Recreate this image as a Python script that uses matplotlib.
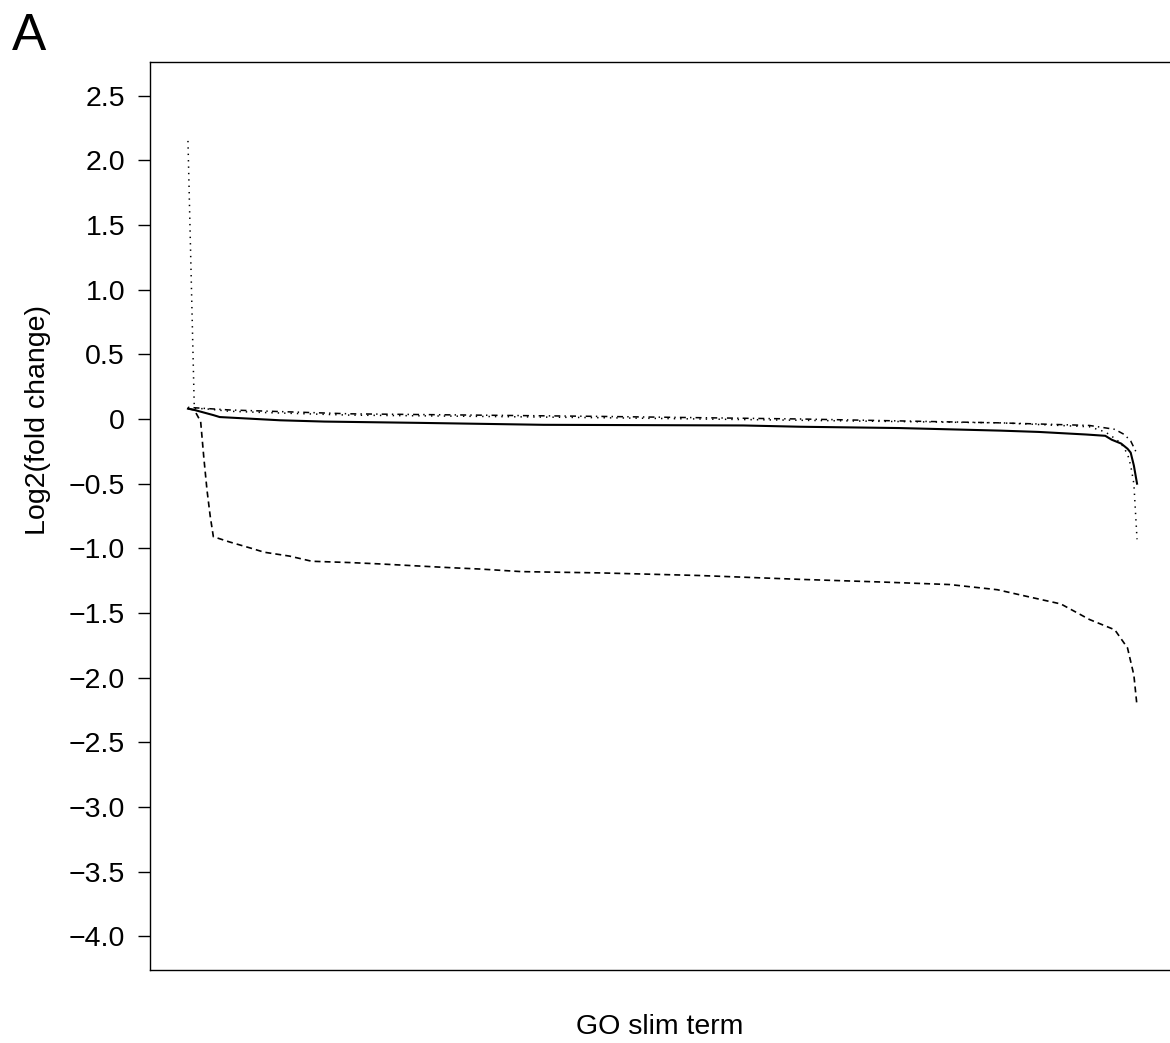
import numpy as np
import matplotlib
matplotlib.use('Agg')
import matplotlib.pyplot as plt

plt.rcParams['font.family'] = ['Liberation Sans', 'DejaVu Sans']
plt.rcParams['lines.scale_dashes'] = False

# GO slim terms ranked by fold change (rank 1..300)
N_TERMS = 300

# solid series
solid_x = [1, 3, 6, 9, 11, 30, 44, 74, 113, 176, 194, 225, 257, 269, 284, 290, 292, 295, 297, 298, 299, 300]
solid_y = [0.08, 0.07, 0.05, 0.03, 0.015, -0.01, -0.02, -0.03, -0.045, -0.05, -0.06, -0.07, -0.09, -0.10,
           -0.12, -0.13, -0.16, -0.19, -0.23, -0.26, -0.36, -0.50]

# dashed series
dashed_x = [1, 3, 5, 6, 7, 8, 9, 14, 21, 25, 33, 40, 52, 61, 84, 93, 106, 131, 162, 194, 219, 241,
            256, 265, 276, 285, 293, 297, 299, 300]
dashed_y = [0.08, 0.07, -0.02, -0.30, -0.55, -0.75, -0.91, -0.95, -1.00, -1.03, -1.06, -1.10, -1.11, -1.12,
            -1.15, -1.16, -1.18, -1.19, -1.21, -1.24, -1.26, -1.28, -1.32, -1.37, -1.43, -1.55, -1.63,
            -1.77, -1.98, -2.22]

# dotted series
dotted_x = [1, 3, 6, 14, 25, 52, 93, 131, 194, 257, 285, 290, 293, 295, 297, 298, 299, 300]
dotted_y = [2.15, 0.08, 0.08, 0.06, 0.05, 0.03, 0.02, 0.01, -0.01, -0.03, -0.06, -0.10, -0.15, -0.19,
            -0.27, -0.36, -0.50, -0.93]

# dot-dash series
dotdash_x = [1, 14, 52, 131, 194, 257, 285, 293, 296, 298, 299, 300]
dotdash_y = [0.09, 0.07, 0.04, 0.02, 0.0, -0.03, -0.05, -0.08, -0.12, -0.17, -0.22, -0.27]

yticks = [2.5, 2.0, 1.5, 1.0, 0.5, 0, -0.5, -1.0, -1.5, -2.0, -2.5, -3.0, -3.5, -4.0]
ytick_labels = ['2.5', '2.0', '1.5', '1.0', '0.5', '0', '\u22120.5', '\u22121.0', '\u22121.5', '\u22122.0',
                '\u22122.5', '\u22123.0', '\u22123.5', '\u22124.0']

W, H = 1170, 1043
fig = plt.figure(figsize=(W / 100, H / 100), dpi=100)
# axes box runs past the right edge of the image, as in the original
ax = fig.add_axes([150 / W, (H - 970) / H, 1025 / W, 908 / H])

ax.plot(solid_x, solid_y, color='black', lw=1.5, ls='-')
ax.plot(dashed_x, dashed_y, color='black', lw=1.2, ls=(0, (4.3, 2.9)))
ax.plot(dotted_x, dotted_y, color='black', lw=1.1, ls=(0, (1.0, 3.6)))
ax.plot(dotdash_x, dotdash_y, color='black', lw=1.1, ls=(0, (1.0, 3.0, 4.3, 3.0)))

# R style 4% padding
pad = 0.04 * (N_TERMS - 1)
ax.set_xlim(1 - pad, N_TERMS + pad)
ax.set_ylim(-4.0 - 0.26, 2.5 + 0.26)

ax.set_xticks([])
ax.set_yticks(yticks)
ax.set_yticklabels(ytick_labels)
ax.tick_params(axis='y', length=9, width=1.0, pad=9, labelsize=20.5, colors='black')

for s in ax.spines.values():
    s.set_linewidth(1.0)
    s.set_color('black')

ax.set_ylabel('Log2(fold change)', fontsize=20.5)
ax.yaxis.set_label_coords(-0.109, (970 - 420) / 908)
ax.set_xlabel('GO slim term', fontsize=20.5)
ax.xaxis.set_label_coords((660 - 150) / 1025, -(1027 - 970) / 908)
ax.xaxis.label.set_va('center')
ax.yaxis.label.set_va('center')

fig.text(12 / W, 1 - 50 / H, 'A', fontsize=37, ha='left', va='baseline')

fig.savefig('out.png', dpi=100)
